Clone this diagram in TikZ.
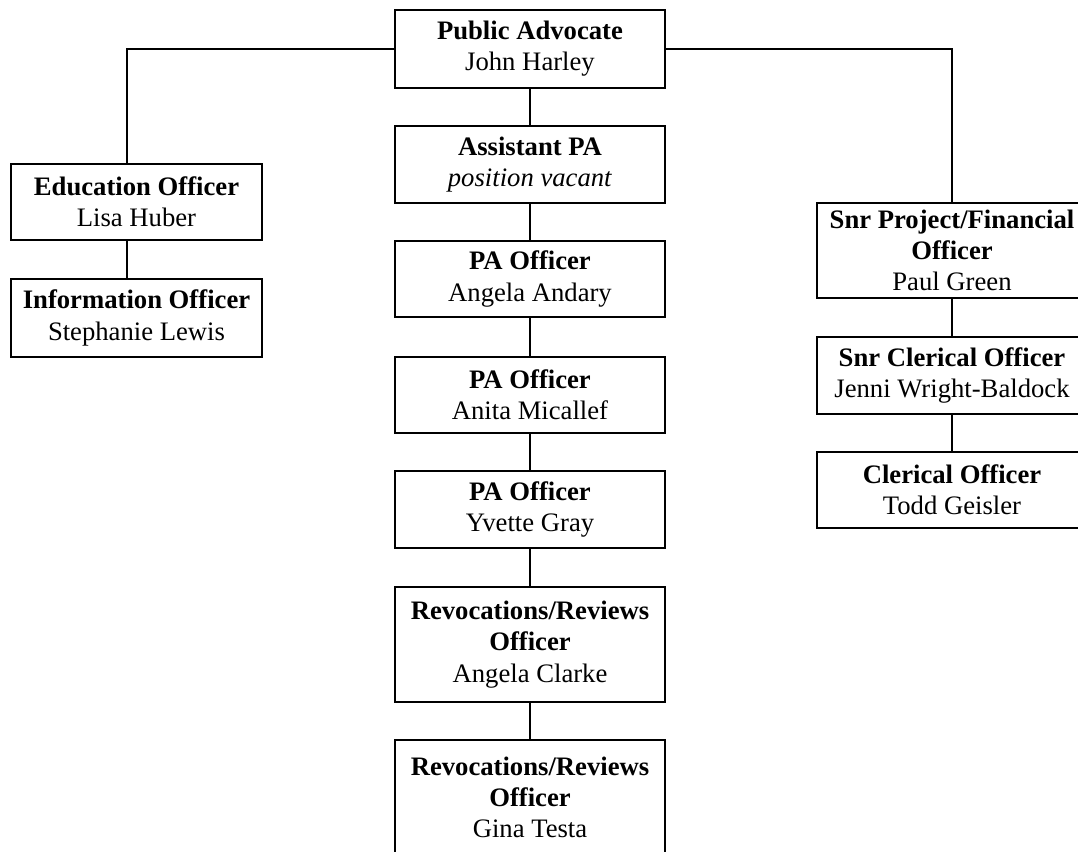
\documentclass[tikz,border=0pt]{standalone}
\usepackage{fontspec}
\setmainfont{Liberation Serif}
\tikzset{role/.style={draw, line width=1.5pt, align=center, inner sep=0pt,
    minimum width=202.5pt, font=\fontsize{20}{23.4}\selectfont}}
\begin{document}
\begin{tikzpicture}[x=0.75pt,y=0.75pt,yscale=-1,xscale=1]
\useasboundingbox (0,0) rectangle (1078,852);
\clip (0,0) rectangle (1078,852);
% centre column
\node [role, minimum height=58.5pt] (pa) at (530,49) {\textbf{Public Advocate}\\John Harley};
\node [role, minimum height=57.75pt] (apa) at (530,164.5) {\textbf{Assistant PA}\\\textit{position vacant}};
\node [role, minimum height=57pt] (pao1) at (530,279) {\textbf{PA Officer}\\Angela Andary};
\node [role, minimum height=57pt] (pao2) at (530,395) {\textbf{PA Officer}\\Anita Micallef};
\node [role, minimum height=57.75pt] (pao3) at (530,509.5) {\textbf{PA Officer}\\Yvette Gray};
\node [role, minimum height=86.25pt] (rev1) at (530,644.5) {\textbf{Revocations/Reviews}\\\textbf{Officer}\\Angela Clarke};
\node [role, minimum height=86.25pt] (rev2) at (530,797.5) {\textbf{Revocations/Reviews}\\\textbf{Officer}\\Gina Testa};
% left column
\node [role, minimum width=188.25pt, minimum height=57pt] (edu) at (136.5,202) {\textbf{Education Officer}\\Lisa Huber};
\node [role, minimum width=188.25pt, minimum height=58.5pt] (info) at (136.5,318) {\textbf{Information Officer}\\Stephanie Lewis};
\coordinate (eduTop) at (127,164);
% right column
\node [role, minimum height=71.25pt] (spf) at (952,250.5) {\textbf{Snr Project/Financial}\\\textbf{Officer}\\Paul Green};
\node [role, minimum height=57.75pt] (sco) at (952,375.5) {\textbf{Snr Clerical Officer}\\Jenni Wright-Baldock};
\node [role, minimum height=57pt] (co) at (952,490) {\textbf{Clerical Officer}\\Todd Geisler};
% connectors
\draw [line width=1.2pt] (pa.west) -| (eduTop);
\draw [line width=1.4pt] (edu.south -| eduTop) -- (info.north -| eduTop);
\draw [line width=1.2pt] (pa.east) -| (spf.north);
\draw [line width=1.5pt] (pa) -- (apa) (apa) -- (pao1) (pao1) -- (pao2) (pao2) -- (pao3) (pao3) -- (rev1) (rev1) -- (rev2);
\draw [line width=1.5pt] (spf) -- (sco) (sco) -- (co);
\end{tikzpicture}
\end{document}
